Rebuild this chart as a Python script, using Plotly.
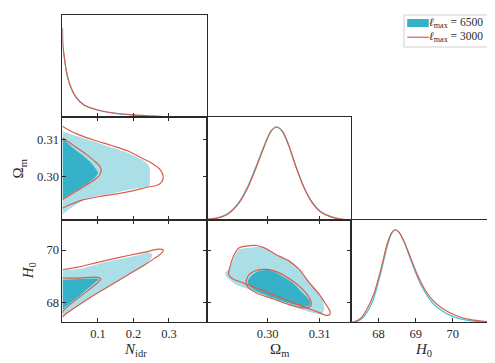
import plotly.graph_objects as go

# ---- 1D marginals (normalised density) ----
n_grid = [0.0, 0.0008, 0.0055, 0.011, 0.0225, 0.0366, 0.06, 0.1, 0.145, 0.2, 0.25, 0.3, 0.35, 0.408]
n_p3000 = [0.957, 0.779, 0.636, 0.493, 0.332, 0.225, 0.135, 0.078, 0.046, 0.025, 0.014, 0.004, 0.001, 0.0]
n_p6500 = [0.95, 0.77, 0.63, 0.49, 0.33, 0.222, 0.132, 0.076, 0.044, 0.024, 0.013, 0.004, 0.001, 0.0]

om_grid = [0.28846, 0.29038, 0.29231, 0.29423, 0.29615, 0.29776, 0.29936, 0.30064, 0.30173,
           0.30288, 0.30417, 0.30545, 0.30705, 0.30865, 0.31026, 0.31218, 0.3141, 0.31602]
om_p3000 = [0.0075, 0.02, 0.061, 0.161, 0.34, 0.555, 0.788, 0.949, 0.996, 0.949, 0.788, 0.573,
            0.34, 0.179, 0.083, 0.033, 0.01, 0.002]
om_p6500 = [0.008, 0.022, 0.066, 0.17, 0.355, 0.57, 0.8, 0.952, 0.996, 0.945, 0.78, 0.57,
            0.345, 0.185, 0.088, 0.036, 0.011, 0.002]

h0_grid = [67.27, 67.345, 67.524, 67.703, 67.883, 68.062, 68.241, 68.349, 68.447, 68.555, 68.689,
           68.868, 69.048, 69.227, 69.451, 69.675, 69.944, 70.212, 70.481, 70.84, 71.14]
h0_p3000 = [0.0, 0.004, 0.043, 0.151, 0.312, 0.564, 0.852, 0.96, 0.995, 0.967, 0.87, 0.69, 0.51,
            0.366, 0.24, 0.161, 0.097, 0.054, 0.028, 0.01, 0.002]
h0_p6500 = [0.0, 0.002, 0.03, 0.115, 0.27, 0.53, 0.825, 0.95, 0.995, 0.967, 0.865, 0.67, 0.485,
            0.34, 0.21, 0.133, 0.072, 0.036, 0.016, 0.005, 0.001]

# ---- 2D contours: N_idr vs Omega_m ----
nom_6500_95_n = [0.0, 0.024, 0.072, 0.128, 0.185, 0.223, 0.237, 0.246, 0.246, 0.246, 0.243, 0.213,
                 0.166, 0.119, 0.081, 0.053, 0.034, 0.015, 0.0]
nom_6500_95_om = [0.3124, 0.3115, 0.3101, 0.3083, 0.3065, 0.3047, 0.3038, 0.3025, 0.3002, 0.2979,
                  0.2975, 0.2970, 0.2961, 0.2952, 0.2945, 0.2934, 0.2923, 0.2910, 0.2899]
nom_6500_68_n = [0.0, 0.024, 0.053, 0.081, 0.095, 0.100, 0.090, 0.072, 0.043, 0.015, 0.0]
nom_6500_68_om = [0.3106, 0.3083, 0.3061, 0.3038, 0.3020, 0.3011, 0.2997, 0.2984, 0.2966, 0.2950, 0.2941]
nom_3000_95_n = [0.0, 0.015, 0.043, 0.09, 0.138, 0.185, 0.223, 0.251, 0.275, 0.284, 0.279, 0.265,
                 0.242, 0.204, 0.157, 0.109, 0.053, 0.020, 0.0]
nom_3000_95_om = [0.3137, 0.3128, 0.3115, 0.3099, 0.3085, 0.3070, 0.3051, 0.3038, 0.3020, 0.3002,
                  0.2986, 0.2977, 0.2973, 0.2964, 0.2955, 0.2948, 0.2937, 0.2925, 0.2916]
nom_3000_68_n = [0.0, 0.034, 0.067, 0.091, 0.105, 0.109, 0.105, 0.091, 0.062, 0.034, 0.010, 0.0]
nom_3000_68_om = [0.3106, 0.3083, 0.3061, 0.3042, 0.3029, 0.3020, 0.3006, 0.2993, 0.2975, 0.2959,
                  0.2945, 0.2939]

# ---- 2D contours: N_idr vs H0 ----
nh_6500_95_n = [0.0, 0.053, 0.109, 0.166, 0.213, 0.243, 0.253, 0.247, 0.232, 0.185, 0.138, 0.0905,
                0.043, 0.010, 0.0]
nh_6500_95_h = [69.231, 69.307, 69.508, 69.672, 69.81, 69.911, 69.823, 69.634, 69.42, 69.05, 68.68,
                68.30, 67.885, 67.58, 67.46]
nh_6500_68_n = [0.0, 0.053, 0.0905, 0.102, 0.0905, 0.062, 0.034, 0.010, 0.0]
nh_6500_68_h = [68.879, 68.904, 68.93, 68.904, 68.754, 68.439, 68.125, 67.873, 67.747]
nh_3000_95_n = [0.0, 0.043, 0.0905, 0.138, 0.185, 0.232, 0.270, 0.284, 0.279, 0.260, 0.232, 0.185,
                0.138, 0.0905, 0.043, 0.010, 0.0]
nh_3000_95_h = [69.257, 69.357, 69.508, 69.659, 69.797, 69.923, 70.037, 70.011, 69.886, 69.697,
                69.445, 69.068, 68.691, 68.313, 67.898, 67.596, 67.47]
nh_3000_68_n = [0.0, 0.043, 0.0905, 0.1075, 0.100, 0.072, 0.043, 0.015, 0.001, 0.0]
nh_3000_68_h = [68.942, 68.942, 68.98, 68.93, 68.778, 68.477, 68.175, 67.873, 67.684, 67.62]

# ---- 2D contours: Omega_m vs H0 ----
omh_6500_95_om = [0.29186, 0.29263, 0.29359, 0.29455, 0.29647, 0.2984, 0.30032, 0.30289, 0.30545,
                  0.30737, 0.3093, 0.31058, 0.3109, 0.31045, 0.30865, 0.30609, 0.30289, 0.29968,
                  0.29647, 0.29391, 0.29263, 0.29199, 0.29186]
omh_6500_95_h = [69.143, 69.294, 69.747, 70.024, 70.087, 70.125, 69.961, 69.709, 69.395, 68.955,
                 68.514, 68.137, 67.76, 67.571, 67.634, 67.785, 68.011, 68.263, 68.514, 68.703,
                 68.892, 69.018, 69.143]
omh_6500_68_om = [0.29615, 0.29712, 0.2984, 0.30032, 0.30224, 0.30481, 0.30673, 0.30815, 0.30815,
                  0.30705, 0.30417, 0.30096, 0.29776, 0.29647, 0.29615]
omh_6500_68_h = [68.829, 69.08, 69.206, 69.244, 69.08, 68.766, 68.389, 68.074, 67.911, 67.86,
                 67.986, 68.2, 68.452, 68.64, 68.829]
omh_3000_95_om = [0.29263, 0.29359, 0.29455, 0.29583, 0.29776, 0.29936, 0.3016, 0.30417, 0.30609,
                  0.30801, 0.30994, 0.31122, 0.31199, 0.31199, 0.31122, 0.30994, 0.30737, 0.30417,
                  0.30096, 0.29776, 0.29519, 0.29327, 0.2925, 0.29263]
omh_3000_95_h = [69.269, 69.835, 70.087, 70.15, 70.175, 70.087, 69.835, 69.584, 69.269, 68.766,
                 68.326, 67.948, 67.697, 67.571, 67.533, 67.634, 67.823, 68.074, 68.326, 68.577,
                 68.766, 68.917, 69.08, 69.269]
omh_3000_68_om = [0.29583, 0.29647, 0.29808, 0.30, 0.30192, 0.30481, 0.30705, 0.30833, 0.30833,
                  0.30705, 0.30417, 0.30096, 0.29776, 0.29615, 0.29583]
omh_3000_68_h = [68.791, 69.08, 69.244, 69.269, 69.169, 68.829, 68.452, 68.074, 67.886, 67.81,
                 67.936, 68.162, 68.389, 68.615, 68.791]

# ticks and ranges
n_ticks = [0.1, 0.2, 0.3]
n_ticktext = ["0.1", "0.2", "0.3"]
om_ticks = [0.30, 0.31]
om_ticktext = ["0.30", "0.31"]
h0_xticks = [68, 69, 70]
h0_yticks = [68, 70]
n_range = [0.0, 0.408]
om_range = [0.2884, 0.3161]
h0_range = [67.27, 71.14]
legend_labels = ["<i>ℓ</i><sub>max</sub> = 6500", "<i>ℓ</i><sub>max</sub> = 3000"]

DARK = "#35B2C7"
LIGHT = "#AADFE7"
RED = "#D95C4C"
CYAN_LINE = "#41C3D8"
AX = "#2a2a2a"
FONT = "Liberation Serif"

fig = go.Figure()


def add_fill(x, y, color, ax):
    fig.add_trace(go.Scatter(
        x=x, y=y, xaxis="x" + ax, yaxis="y" + ax, mode="lines", fill="toself",
        fillcolor=color, line=dict(width=0, color=color, shape="spline", smoothing=0.7),
        hoverinfo="skip", showlegend=False))


def add_line(x, y, color, ax, width=1.2):
    fig.add_trace(go.Scatter(
        x=x, y=y, xaxis="x" + ax, yaxis="y" + ax, mode="lines",
        line=dict(width=width, color=color, shape="spline", smoothing=0.7),
        hoverinfo="skip", showlegend=False))


# 1D panels
add_line(n_grid, n_p6500, CYAN_LINE, "1")
add_line(n_grid, n_p3000, RED, "1")
add_line(om_grid, om_p6500, CYAN_LINE, "4")
add_line(om_grid, om_p3000, RED, "4")
add_line(h0_grid, h0_p6500, CYAN_LINE, "6")
add_line(h0_grid, h0_p3000, RED, "6")

# N_idr - Omega_m
add_fill(nom_6500_95_n, nom_6500_95_om, LIGHT, "2")
add_fill(nom_6500_68_n, nom_6500_68_om, DARK, "2")
add_line(nom_3000_95_n, nom_3000_95_om, RED, "2")
add_line(nom_3000_68_n, nom_3000_68_om, RED, "2")

# N_idr - H0
add_fill(nh_6500_95_n, nh_6500_95_h, LIGHT, "3")
add_fill(nh_6500_68_n, nh_6500_68_h, DARK, "3")
add_line(nh_3000_95_n, nh_3000_95_h, RED, "3")
add_line(nh_3000_68_n, nh_3000_68_h, RED, "3")

# Omega_m - H0
add_fill(omh_6500_95_om, omh_6500_95_h, LIGHT, "5")
add_fill(omh_6500_68_om, omh_6500_68_h, DARK, "5")
add_line(omh_3000_95_om, omh_3000_95_h, RED, "5")
add_line(omh_3000_68_om, omh_3000_68_h, RED, "5")

# panel domains (paper units)
c1, c2, c3 = [0.1101, 0.4026], [0.4026, 0.6935], [0.6935, 0.9844]
r1, r2, r3 = [0.6989, 0.9815], [0.4160, 0.6989], [0.1342, 0.4160]

tickfont = dict(family=FONT, size=12.5, color=AX)
base = dict(showline=True, linecolor=AX, linewidth=1, showgrid=False, zeroline=False,
            ticks="inside", ticklen=4, tickwidth=1, tickcolor=AX, tickfont=tickfont)


def axis(domain, anchor, rng, tv, tt, labels, mirror, ticks="inside"):
    return dict(base, domain=domain, anchor=anchor, range=rng, tickvals=tv, ticktext=tt,
                showticklabels=labels, mirror=mirror, ticks=ticks)


h0_xt = [str(v) for v in h0_xticks]
h0_yt = [str(v) for v in h0_yticks]
fig.update_layout(
    xaxis=axis(c1, "y", n_range, n_ticks, n_ticktext, False, True),
    yaxis=axis(r1, "x", [0, 1.1], [], [], False, True, ticks=""),
    xaxis2=axis(c1, "y2", n_range, n_ticks, n_ticktext, False, "ticks"),
    yaxis2=axis(r2, "x2", om_range, om_ticks, om_ticktext, True, "ticks"),
    xaxis3=axis(c1, "y3", n_range, n_ticks, n_ticktext, True, "ticks"),
    yaxis3=axis(r3, "x3", h0_range, h0_yticks, h0_yt, True, "ticks"),
    xaxis4=axis(c2, "y4", om_range, om_ticks, om_ticktext, False, True),
    yaxis4=axis(r2, "x4", [0, 1.1], [], [], False, True, ticks=""),
    xaxis5=axis(c2, "y5", om_range, om_ticks, om_ticktext, True, "ticks"),
    yaxis5=axis(r3, "x5", h0_range, h0_yticks, h0_yt, False, "ticks"),
    xaxis6=axis(c3, "y6", h0_range, h0_xticks, h0_xt, True, True),
    yaxis6=axis(r3, "x6", [0, 1.1], [], [], False, True, ticks=""),
)

title_font = dict(family=FONT, size=15, color=AX)
annots = [
    dict(text="<i>N</i><sub>idr</sub>", x=0.2566, y=0.058),
    dict(text="Ω<sub>m</sub>", x=0.548, y=0.058),
    dict(text="<i>H</i><sub>0</sub>", x=0.839, y=0.058),
    dict(text="Ω<sub>m</sub>", x=0.023, y=0.5565, textangle=-90),
    dict(text="<i>H</i><sub>0</sub>", x=0.043, y=0.2755, textangle=-90),
]
for a in annots:
    fig.add_annotation(xref="paper", yref="paper", showarrow=False, font=title_font,
                       xanchor="center", yanchor="middle", **a)

# legend box drawn by hand, like the matplotlib one
fig.add_shape(type="rect", xref="paper", yref="paper", x0=0.800, x1=0.9838, y0=0.8926, y1=0.9807,
              line=dict(color="#cfcfcf", width=1), fillcolor="white", layer="above")
fig.add_shape(type="rect", xref="paper", yref="paper", x0=0.8065, x1=0.850, y0=0.9477, y1=0.9697,
              line=dict(width=0), fillcolor=DARK, layer="above")
fig.add_shape(type="line", xref="paper", yref="paper", x0=0.8065, x1=0.850, y0=0.9195, y1=0.9195,
              line=dict(color=RED, width=1.2), layer="above")
for lab, yy in zip(legend_labels, [0.9587, 0.9195]):
    fig.add_annotation(xref="paper", yref="paper", x=0.847, y=yy, text=lab, showarrow=False,
                       xanchor="left", yanchor="middle",
                       font=dict(family=FONT, size=11.5, color=AX))

fig.update_layout(
    width=495, height=363,
    margin=dict(l=0, r=0, t=0, b=0),
    paper_bgcolor="white", plot_bgcolor="white",
    showlegend=False,
)

fig.write_html("out.html")
